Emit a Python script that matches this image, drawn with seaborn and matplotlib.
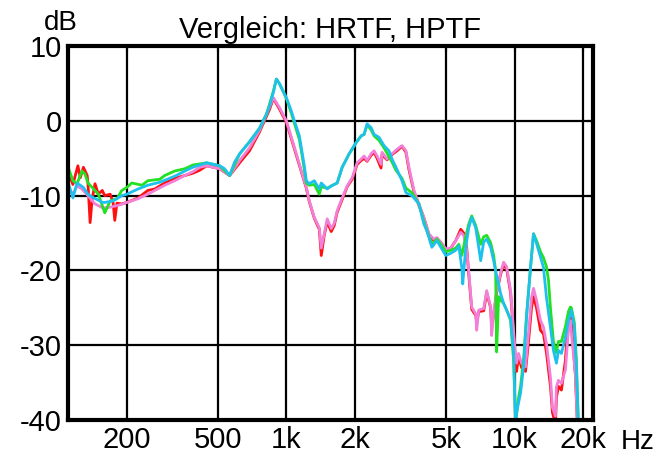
import matplotlib
matplotlib.use("Agg")
import matplotlib.pyplot as plt
import seaborn as sns
import pandas as pd

# ---------------- data (frequency in Hz, level in dB) ----------------
freq_cyan = [110, 116, 121, 129, 135, 141, 150, 156, 160, 174, 190, 200, 224, 233, 247, 279, 324, 359, 389, 447,
             510, 536, 564, 593, 624, 689, 762, 818, 843, 877, 904, 932, 1000, 1052, 1084, 1140, 1163, 1198, 1223,
             1260, 1325, 1394, 1422, 1510, 1572, 1670, 1756, 1884, 2022, 2126, 2191, 2258, 2351, 2423, 2547, 2679,
             2817, 2903, 3022, 3211, 3342, 3550, 3809, 4006, 4127, 4340, 4564, 4753, 4994, 5254, 5526, 5695, 5869,
             5927, 6109, 6296, 6489, 6756, 6963, 7104, 7321, 7546, 7856, 8095, 8343, 8512, 8687, 8954, 9229, 9605,
             9899, 10101, 10202, 10622, 10947, 11283, 11746, 12106, 12477, 12987, 13385, 13795, 14360, 14801, 15255,
             15566, 16043, 16702, 17214, 17741, 18281, 18653, 19032]
db_cyan = [-8.0, -10.3, -8.3, -8.9, -9.8, -10.2, -10.6, -10.9, -10.9, -10.7, -10.0, -9.8, -9.1, -8.9, -8.6, -8.2, -7.4,
           -6.7, -6.2, -5.6, -6.0, -6.4, -7.3, -5.5, -4.4, -2.8, -1.0, 0.9, 2.0, 3.8, 5.6, 5.0, 3.1, 1.3, 0.0, -2.0,
           -3.6, -6.0, -8.0, -8.4, -8.0, -9.1, -8.3, -9.1, -8.7, -8.3, -6.2, -4.4, -2.9, -2.0, -1.8, -0.4, -0.9, -1.8,
           -2.2, -3.3, -4.0, -5.1, -6.2, -8.0, -9.6, -10.0, -11.1, -13.8, -14.7, -16.9, -16.0, -16.9, -18.0, -17.7,
           -17.3, -16.7, -19.6, -21.8, -16.9, -14.3, -12.9, -14.3, -16.9, -18.7, -16.2, -15.8, -16.9, -18.7, -20.7,
           -21.8, -23.1, -24.4, -25.3, -26.5, -31.0, -40.5, -39.0, -36.4, -32.9, -26.2, -19.6, -15.1, -16.4, -18.2,
           -19.6, -23.6, -27.6, -30.7, -32.4, -30.7, -31.1, -28.9, -26.7, -25.3, -27.6, -32.9, -40.5]

freq_green = [110, 116, 121, 127, 131, 135, 141, 150, 160, 169, 181, 190, 200, 210, 233, 247, 279, 293, 324, 359,
              389, 447, 510, 564, 624, 689, 762, 818, 843, 877, 904, 932, 1000, 1052, 1084, 1140, 1163, 1198, 1223,
              1260, 1325, 1394, 1422, 1510, 1572, 1670, 1756, 1884, 2022, 2126, 2191, 2258, 2351, 2423, 2547, 2679,
              2817, 2903, 3022, 3211, 3342, 3550, 3809, 4006, 4127, 4340, 4564, 4753, 4994, 5254, 5526, 5695, 5869,
              6109, 6296, 6489, 6756, 6963, 7104, 7321, 7546, 7856, 8095, 8260, 8343, 8512, 8687, 8954, 9229, 9605,
              9899, 10101, 10411, 10622, 10947, 11283, 11746, 12106, 12477, 12987, 13385, 13795, 14076, 14360, 14801,
              15255, 15566, 16043, 16702, 17214, 17564, 17741, 18281, 18653, 19032]
db_green = [-6.0, -8.0, -8.4, -6.7, -7.1, -8.3, -8.9, -9.8, -12.3, -10.7, -10.4, -9.3, -8.9, -8.3, -8.6, -8.0, -7.8,
            -7.3, -6.7, -6.4, -5.9, -5.6, -6.0, -7.3, -4.4, -2.8, -1.0, 0.9, 2.2, 4.0, 5.6, 5.0, 3.0, 1.0, -0.3, -2.5,
            -4.0, -6.5, -8.3, -8.6, -8.5, -9.8, -8.8, -9.0, -8.7, -8.3, -6.2, -4.4, -2.9, -2.0, -1.8, -0.5, -1.2, -2.0,
            -2.6, -3.6, -4.8, -5.5, -6.6, -7.7, -9.0, -9.6, -11.1, -13.5, -14.7, -16.5, -15.8, -16.5, -17.5, -17.3,
            -17.0, -16.5, -18.0, -15.5, -13.8, -12.7, -14.0, -15.5, -16.5, -15.5, -15.3, -16.3, -18.0, -20.0, -30.9,
            -23.5, -24.0, -24.4, -25.3, -26.7, -32.0, -40.5, -37.0, -35.5, -32.0, -26.0, -19.6, -15.1, -16.0, -17.5,
            -18.3, -19.5, -21.3, -25.0, -29.5, -31.0, -29.5, -29.5, -27.5, -25.5, -24.9, -25.0, -27.0, -32.0, -40.5]

freq_pink = [110, 113, 116, 121, 127, 135, 145, 156, 165, 183, 200, 224, 247, 265, 293, 324, 359, 389, 417, 447, 510,
             564, 624, 689, 762, 785, 843, 877, 932, 1000, 1052, 1106, 1163, 1223, 1260, 1325, 1394, 1422, 1465,
             1510, 1572, 1620, 1670, 1756, 1847, 1942, 2042, 2126, 2191, 2258, 2351, 2423, 2497, 2599, 2626, 2761,
             2903, 3052, 3211, 3342, 3444, 3623, 3809, 4006, 4211, 4429, 4564, 4753, 4994, 5254, 5526, 5810, 5988,
             6171, 6296, 6489, 6756, 6824, 6963, 7321, 7546, 7856, 7935, 8095, 8343, 8687, 8954, 9229, 9605, 9899,
             10101, 10202, 10411, 10729, 11167, 11510, 11864, 12106, 12477, 12987, 13385, 13795, 14360, 14653,
             15101, 15255, 15566, 16043, 16702, 17214, 17564, 17741, 18468, 18843]
db_pink = [-9.0, -9.3, -9.8, -8.7, -9.1, -10.0, -11.1, -11.6, -11.6, -11.3, -10.9, -10.4, -9.8, -9.3, -8.6, -8.0, -7.3,
           -6.8, -6.2, -6.0, -6.4, -7.3, -5.3, -3.6, -1.3, -0.4, 1.8, 3.1, 1.8, 0.0, -2.2, -4.4, -6.7, -8.9, -10.7,
           -12.9, -14.3, -17.0, -15.1, -13.1, -14.4, -13.7, -12.0, -10.3, -8.7, -7.6, -5.6, -5.1, -4.7, -5.3, -4.4,
           -4.0, -4.7, -5.8, -4.2, -5.1, -4.4, -3.8, -3.3, -4.0, -6.2, -9.3, -11.1, -12.9, -15.1, -15.8, -15.6,
           -16.2, -17.1, -17.0, -16.0, -14.9, -15.3, -17.3, -20.0, -24.9, -25.8, -28.0, -25.3, -25.1, -22.7, -24.9,
           -28.7, -25.8, -22.7, -20.3, -18.9, -19.5, -22.7, -28.0, -31.6, -32.4, -31.1, -32.4, -32.9, -28.4, -23.6,
           -22.4, -24.0, -26.7, -27.6, -29.8, -34.3, -38.3, -39.5, -35.6, -34.7, -35.1, -33.3, -28.0, -26.7, -28.4,
           -33.8, -40.5]

freq_red = [110, 113, 116, 122, 125, 129, 134, 135, 138, 141, 145, 150, 156, 160, 169, 174, 177, 181, 190, 200, 224,
            247, 265, 293, 324, 359, 389, 417, 447, 510, 564, 624, 689, 762, 785, 843, 877, 932, 1000, 1052, 1106,
            1163, 1223, 1260, 1325, 1394, 1422, 1465, 1510, 1572, 1620, 1670, 1756, 1847, 1942, 2042, 2126, 2191,
            2258, 2351, 2423, 2497, 2599, 2626, 2761, 2903, 3052, 3211, 3342, 3444, 3623, 3809, 4006, 4211, 4429,
            4564, 4753, 4994, 5254, 5526, 5810, 5988, 6171, 6296, 6489, 6756, 6824, 6963, 7321, 7546, 7856, 7935,
            8095, 8343, 8687, 8954, 9229, 9605, 9899, 10101, 10202, 10411, 10729, 11167, 11510, 11864, 12106,
            12477, 12987, 13385, 13795, 14360, 14653, 15101, 15255, 15566, 16043, 16702, 17214, 17564, 17741,
            18468, 18843]
db_red = [-7.6, -7.6, -8.5, -6.0, -7.6, -6.2, -7.3, -8.3, -13.6, -10.4, -8.4, -9.8, -9.3, -10.0, -9.8, -10.9, -13.3,
          -11.0, -11.1, -10.9, -10.3, -9.3, -9.1, -8.3, -7.7, -7.3, -7.0, -6.6, -6.0, -6.4, -7.3, -5.6, -4.0, -1.5,
          -0.6, 1.5, 3.0, 1.6, -0.2, -2.4, -4.6, -6.8, -9.0, -10.8, -13.0, -14.5, -18.0, -15.3, -13.5, -14.8, -14.0,
          -12.2, -10.5, -8.8, -7.8, -5.8, -5.3, -5.0, -5.4, -4.6, -4.2, -5.0, -6.3, -4.5, -5.2, -4.5, -4.0, -3.4,
          -4.2, -6.5, -9.5, -11.3, -13.0, -15.2, -16.0, -15.7, -16.5, -17.3, -17.0, -16.0, -14.5, -15.0, -17.0,
          -20.5, -25.2, -26.0, -27.0, -25.5, -25.4, -23.0, -25.0, -27.5, -26.0, -23.0, -20.5, -19.2, -19.8, -23.0,
          -28.5, -32.5, -33.5, -31.5, -33.0, -33.5, -29.5, -25.0, -23.5, -25.0, -28.0, -28.5, -31.0, -35.5, -39.0,
          -40.5, -37.0, -35.5, -36.0, -32.0, -26.0, -25.0, -27.0, -34.0, -40.5]

x_ticks = [200, 500, 1000, 2000, 5000, 10000, 20000]
x_tick_labels = ["200", "500", "1k", "2k", "5k", "10k", "20k"]
y_ticks = [-40, -30, -20, -10, 0, 10]
title = "Vergleich: HRTF, HPTF"

series = [("red", freq_red, db_red, "#ff1010"),
          ("pink", freq_pink, db_pink, "#f27fd8"),
          ("green", freq_green, db_green, "#22e022"),
          ("cyan", freq_cyan, db_cyan, "#1ec0ee")]

frames = []
for name, f, d, _ in series:
    frames.append(pd.DataFrame({"freq": f, "dB": d, "curve": name}))
df = pd.concat(frames, ignore_index=True)
palette = {name: c for name, _, _, c in series}

# ---------------- plot ----------------
sns.set_style("white")
plt.rcParams["font.family"] = ["Liberation Sans", "DejaVu Sans"]
plt.rcParams["axes.unicode_minus"] = False
plt.rcParams["text.color"] = "black"

fig = plt.figure(figsize=(6.63, 4.57), dpi=100)
ax = fig.add_axes([0.102, 0.081, 0.792, 0.818])

sns.lineplot(data=df, x="freq", y="dB", hue="curve", hue_order=[s[0] for s in series],
             palette=palette, linewidth=2.0, sort=False, estimator=None, legend=False, ax=ax)

ax.set_xscale("log")
ax.set_xlim(110, 22000)
ax.set_ylim(-40, 10)
ax.set_xticks(x_ticks)
ax.set_xticklabels(x_tick_labels)
ax.xaxis.set_minor_locator(matplotlib.ticker.NullLocator())
ax.set_yticks(y_ticks)
ax.set_xlabel("")
ax.set_ylabel("")
ax.grid(True, color="black", linewidth=1.6)
ax.set_axisbelow(True)
for sp in ax.spines.values():
    sp.set_color("black")
    sp.set_linewidth(3)
ax.tick_params(axis="both", direction="in", length=4, width=1.5, labelsize=21, pad=4,
               top=True, right=True, colors="black")
ax.set_title(title, fontsize=21, pad=6, color="black")

fig.text(0.092, 0.950, "dB", fontsize=20, ha="center", va="center", color="black")
fig.text(0.962, 0.033, "Hz", fontsize=20, ha="center", va="center", color="black")

fig.savefig("out.png", dpi=100, facecolor="white")
